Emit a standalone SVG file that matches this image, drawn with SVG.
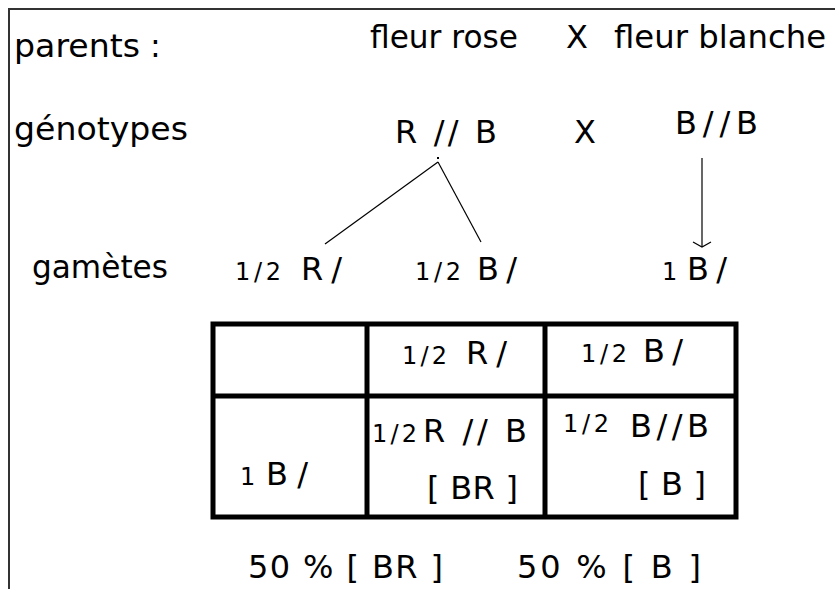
<svg xmlns="http://www.w3.org/2000/svg" width="835" height="589" viewBox="0 0 835 589">
<style>
text{font-family:"DejaVu Sans","Liberation Sans",sans-serif;fill:#000;font-size:32px}
.s{font-size:24px}
.grid{stroke:#000;stroke-width:5;fill:none}
.conn{stroke:#000;stroke-width:1.2;fill:none}
</style>
<rect width="835" height="589" fill="#fff"/>
<path d="M9,589 V9 H835" stroke="#333" stroke-width="2" fill="none"/>
<g id="labels">
<text x="14" y="57" textLength="126" lengthAdjust="spacingAndGlyphs">parents</text>
<text x="150" y="57">:</text>
<text x="14" y="140" textLength="174" lengthAdjust="spacingAndGlyphs">génotypes</text>
<text x="32" y="278" textLength="136" lengthAdjust="spacingAndGlyphs">gamètes</text>
</g>
<g id="parents">
<text x="370" y="48" textLength="148" lengthAdjust="spacingAndGlyphs">fleur rose</text>
<text x="566" y="48">X</text>
<text x="614" y="48" textLength="212" lengthAdjust="spacingAndGlyphs">fleur blanche</text>
</g>
<g id="genotype-rose"><text x="395" y="143" textLength="102">R // B</text></g>
<g id="genotype-cross"><text x="574" y="143">X</text></g>
<g id="genotype-blanche"><text x="675" y="134" textLength="83">B//B</text></g>
<g id="gamete-R"><text class="s" x="235" y="280" textLength="46">1/2</text><text x="301" y="280" textLength="41">R/</text></g>
<g id="gamete-B"><text class="s" x="415" y="280" textLength="46">1/2</text><text x="477" y="280" textLength="40">B/</text></g>
<g id="gamete-B2"><text class="s" x="662" y="280">1</text><text x="687" y="280" textLength="40">B/</text></g>
<g id="connectors">
<line class="conn" x1="438" y1="162" x2="325" y2="244"/>
<line class="conn" x1="438" y1="162" x2="481" y2="242"/>
<rect x="437" y="157" width="2" height="2" fill="#000"/>
<line class="conn" x1="702" y1="158" x2="702" y2="247"/>
<path class="conn" d="M693,242 L702,247 L711,242"/>
</g>
<g id="table">
<rect class="grid" x="213" y="324" width="523" height="193"/>
<line class="grid" x1="213" y1="396" x2="736" y2="396"/>
<line class="grid" x1="367" y1="324" x2="367" y2="517"/>
<line class="grid" x1="545" y1="324" x2="545" y2="517"/>
<text class="s" x="402" y="364" textLength="45">1/2</text><text x="466" y="364" textLength="41">R/</text>
<text class="s" x="581" y="362" textLength="46">1/2</text><text x="643" y="362" textLength="40">B/</text>
<text class="s" x="240" y="485">1</text><text x="266" y="485" textLength="42">B/</text>
<text class="s" x="372" y="442" textLength="45">1/2</text><text x="423" y="442" textLength="104">R // B</text>
<text x="427" y="499" textLength="91">[ BR ]</text>
<text class="s" x="563" y="432" textLength="46">1/2</text><text x="630" y="437" textLength="79">B//B</text>
<text x="638" y="495" textLength="68">[ B ]</text>
</g>
<g id="results">
<text x="248" y="578" textLength="195">50 % [ BR ]</text>
<text x="517" y="578" textLength="184">50 %  [ B ]</text>
</g>
</svg>
